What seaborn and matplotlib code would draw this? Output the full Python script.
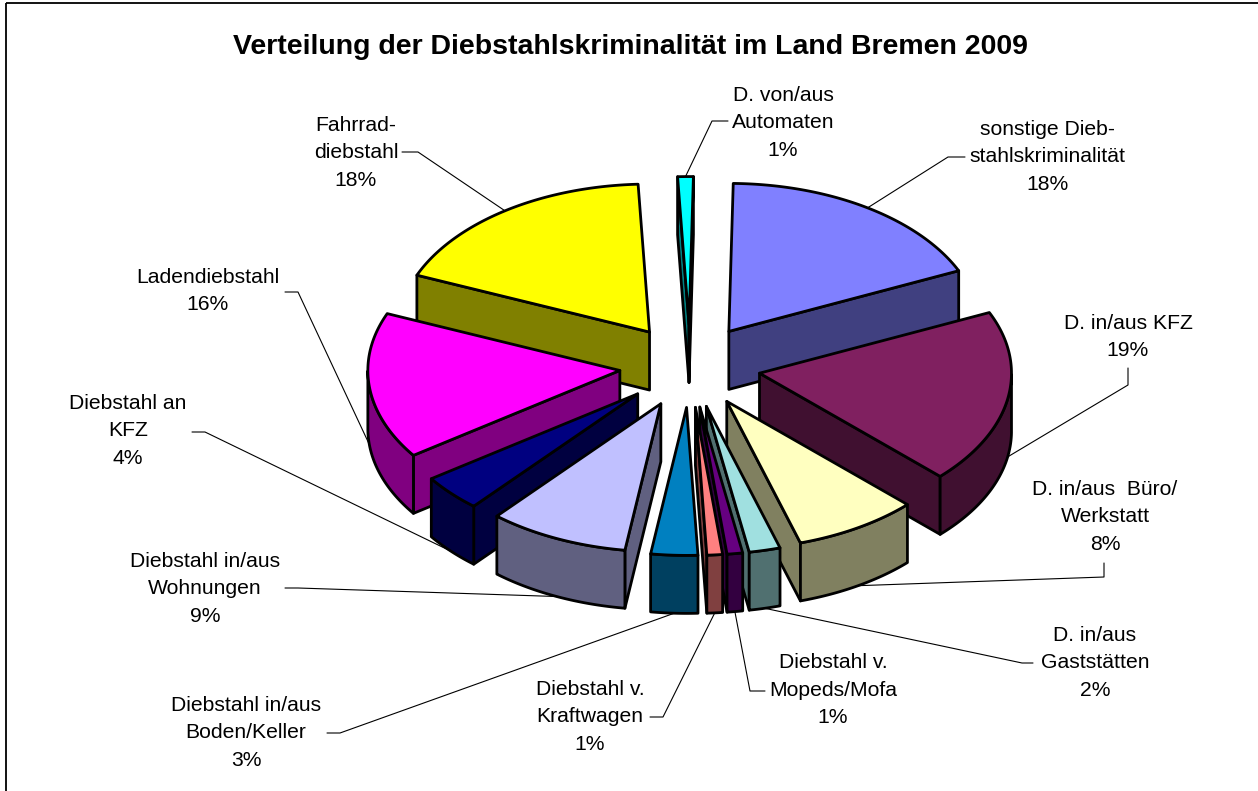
import numpy as np
import matplotlib
matplotlib.use("Agg")
import matplotlib.pyplot as plt
from matplotlib.patches import Polygon, Rectangle
import seaborn as sns

# data
categories = ["sonstige Dieb-\nstahlskriminalität", "D. in/aus KFZ", "D. in/aus  Büro/\nWerkstatt",
              "D. in/aus\nGaststätten", "Diebstahl v.\nMopeds/Mofa", "Diebstahl v.\nKraftwagen",
              "Diebstahl in/aus\nBoden/Keller", "Diebstahl in/aus\nWohnungen", "Diebstahl an\nKFZ",
              "Ladendiebstahl", "Fahrrad-\ndiebstahl", "D. von/aus\nAutomaten"]
shares = [18, 19, 8, 2, 1, 1, 3, 9, 4, 16, 18, 1]
title = "Verteilung der Diebstahlskriminalität im Land Bremen 2009"

# styling
top_colors = ["#8080FF", "#802060", "#FFFFC0", "#A0E0E0", "#660080", "#FF8080",
              "#0080C0", "#C0C0FF", "#000080", "#FF00FF", "#FFFF00", "#00FFFF"]
# label text centres and the two leader points next to the text (pixels)
label_xy = [(1047, 157), (1128, 337), (1105, 517), (1095, 663), (833, 690), (590, 717),
            (246, 733), (205, 589), (128, 431), (208, 291), (356, 153), (783, 123)]
leader_start = [((965, 157), (948, 157)), ((1128, 368), (1128, 385)), ((1104, 563), (1104, 577)),
                ((1033, 663), (1022, 663)), ((765, 691), (750, 691)), ((650, 717), (663, 717)),
                ((327, 733), (340, 733)), ((285, 588), (298, 588)), ((192, 432), (205, 432)),
                ((285, 292), (298, 292)), ((402, 152), (418, 152)), ((728, 121), (712, 121))]

# pie geometry (pixels)
cx, cy = 690, 366
rx, ry = 252, 148
explode = 0.28
depth = 58
start_angle = 1.0

sns.set_theme(style="white")
plt.rcParams["font.family"] = ["Liberation Sans", "DejaVu Sans"]

palette = sns.color_palette(top_colors)
side_colors = [tuple(np.array(c) * 0.5) for c in palette]

fig = plt.figure(figsize=(12.58, 7.91), dpi=100)
ax = fig.add_axes([0, 0, 1, 1])
ax.set_xlim(0, 1258)
ax.set_ylim(791, 0)
ax.axis("off")

# chart frame (only left and top edges are inside the picture)
ax.add_patch(Rectangle((6, 3), 1400, 900, fill=False, ec="black", lw=1.3, zorder=1))

fracs = np.array(shares) / np.sum(shares)
bounds = start_angle + 360 * np.concatenate([[0], np.cumsum(fracs)])

edge = dict(ec="black", lw=2.0, joinstyle="round")
slices = []
for i in range(len(shares)):
    a0, a1 = bounds[i], bounds[i + 1]
    m = np.radians((a0 + a1) / 2)
    ox = cx + explode * rx * np.sin(m)
    oy = cy - explode * ry * np.cos(m)
    slices.append((i, a0, a1, m, ox, oy))

# paint back to front
order = sorted(slices, key=lambda s: -np.cos(s[3]))
z = 2
anchors = {}
for i, a0, a1, m, ox, oy in order:
    th = np.radians(np.linspace(a0, a1, 120))
    ax_ = ox + rx * np.sin(th)
    ay_ = oy - ry * np.cos(th)
    # radial walls
    if np.sin(np.radians(a0)) < 0:
        quad = [(ox, oy), (ax_[0], ay_[0]), (ax_[0], ay_[0] + depth), (ox, oy + depth)]
        ax.add_patch(Polygon(quad, closed=True, fc=side_colors[i], zorder=z, **edge))
    if np.sin(np.radians(a1)) > 0:
        quad = [(ox, oy), (ax_[-1], ay_[-1]), (ax_[-1], ay_[-1] + depth), (ox, oy + depth)]
        ax.add_patch(Polygon(quad, closed=True, fc=side_colors[i], zorder=z, **edge))
    # outer curved wall
    front = np.cos(th) < 0
    if front.sum() > 1:
        fx, fy = ax_[front], ay_[front]
        wall = np.column_stack([np.concatenate([fx, fx[::-1]]),
                                np.concatenate([fy, fy[::-1] + depth])])
        ax.add_patch(Polygon(wall, closed=True, fc=side_colors[i], zorder=z, **edge))
    # top face
    top = np.column_stack([np.concatenate([[ox], ax_]), np.concatenate([[oy], ay_])])
    ax.add_patch(Polygon(top, closed=True, fc=palette[i], zorder=z + 0.5, **edge))
    z += 1
    # leader anchor on the rim
    px = ox + rx * np.sin(m)
    py = oy - ry * np.cos(m) + (depth if np.cos(m) < 0 else 0)
    anchors[i] = (px, py)

# labels with leader lines
for i, name in enumerate(categories):
    tx, ty = label_xy[i]
    ax.text(tx, ty, f"{name}\n{shares[i]}%", ha="center", va="center",
            fontsize=15.2, linespacing=1.58, color="black", zorder=50)
    (p0, p1) = leader_start[i]
    ex, ey = anchors[i]
    ax.plot([p0[0], p1[0], ex], [p0[1], p1[1], ey], color="black", lw=0.8, zorder=40)

ax.text(630, 47, title, ha="center", va="center", fontsize=20.5, fontweight="bold",
        color="black", zorder=50)

fig.savefig("out.png", dpi=100)
